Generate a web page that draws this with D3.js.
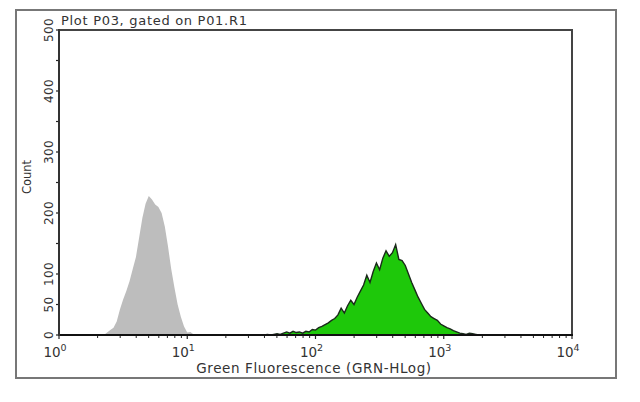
<!DOCTYPE html>
<html><head><meta charset="utf-8">
<script src="https://cdn.jsdelivr.net/npm/d3@7"></script>
<style>
html,body{margin:0;padding:0;background:#fff;}
text{font-family:"DejaVu Sans",Verdana,sans-serif;fill:#333;}
</style></head>
<body><svg id="c" width="640" height="402"></svg>
<script>
// log10 bin positions and counts (0.025-decade bins)
const grayStart = 0.35;
const grayCounts = [0,4,8,12,22,42,58,72,88,108,128,160,192,215,228,222,214,210,200,178,145,108,78,50,30,14,4,5,1,0];
const greenStart = 1.60;
const greenCounts = [0,1,0,1,2,1,3,5,3,6,4,5,3,6,5,9,8,12,14,17,20,24,27,33,44,36,48,57,50,62,72,82,98,86,104,118,107,126,138,129,135,148,124,122,114,100,86,74,62,52,42,36,30,27,24,18,15,12,10,7,5,3,2,1,3,2,1,0];
const binStep = 0.025;
const yTickValues = [0,50,100,200,300,400,500];
const xTickExps = [0,1,2,3,4];
const titleText = "Plot P03, gated on P01.R1";
const xTitle = "Green Fluorescence (GRN-HLog)";
const yTitle = "Count";

const svg = d3.select("#c");
const L = 59, R = 572, T = 30, B = 335;
const x = d3.scaleLog().domain([1, 1e4]).range([L, R]);
const y = d3.scaleLinear().domain([0, 500]).range([B, T]);

// outer frame
svg.append("rect").attr("x",16).attr("y",10).attr("width",600).attr("height",368)
  .attr("fill","none").attr("stroke","#777").attr("stroke-width",2);

const toPts = (start, arr) => arr.map((c,i)=>({v:Math.pow(10,start+i*binStep), c}));
const area = d3.area().x(d=>x(d.v)).y0(y(0)).y1(d=>y(d.c));
const line = d3.line().x(d=>x(d.v)).y(d=>y(d.c));

const g1 = toPts(grayStart, grayCounts);
svg.append("path").attr("d", area(g1)).attr("fill","#bdbdbd");

const g2 = toPts(greenStart, greenCounts);
svg.append("path").attr("d", area(g2)).attr("fill","#1ec80a");
svg.append("path").attr("d", line(g2)).attr("fill","none").attr("stroke","#1a2a1a").attr("stroke-width",1.4);

// plot frame (top, right)
svg.append("path").attr("d",`M${L},${B}V${T}H${R}V${B}`).attr("fill","none").attr("stroke","#444").attr("stroke-width",2);

// x axis
const minor = [];
for (let e=0;e<4;e++) for (let k=2;k<=9;k++) minor.push(k*Math.pow(10,e));
svg.append("g").selectAll("line").data(minor).join("line")
  .attr("x1",d=>x(d)).attr("x2",d=>x(d)).attr("y1",B).attr("y2",B+3)
  .attr("stroke","#222").attr("stroke-width",1);
svg.append("g").selectAll("line").data(xTickExps).join("line")
  .attr("x1",d=>x(Math.pow(10,d))).attr("x2",d=>x(Math.pow(10,d))).attr("y1",B).attr("y2",B+4)
  .attr("stroke","#222").attr("stroke-width",1.2);
svg.append("line").attr("x1",L-1).attr("x2",R+1).attr("y1",B).attr("y2",B).attr("stroke","#111").attr("stroke-width",2);

const xl = svg.append("g").selectAll("text").data(xTickExps).join("text")
  .attr("x",d=>x(Math.pow(10,d))-4).attr("y",357).attr("text-anchor","middle")
  .attr("font-size",13.5);
xl.append("tspan").text("10");
xl.append("tspan").attr("dy",-6).attr("font-size",9.5).text(d=>d);

// y axis
svg.append("g").selectAll("line").data(d3.range(0,501,50)).join("line")
  .attr("x1",L-3).attr("x2",L).attr("y1",d=>y(d)).attr("y2",d=>y(d))
  .attr("stroke","#222").attr("stroke-width",1.2);
svg.append("line").attr("x1",L).attr("x2",L).attr("y1",T-1).attr("y2",B+1).attr("stroke","#333").attr("stroke-width",2);
svg.append("g").selectAll("text").data(yTickValues).join("text")
  .attr("transform",d=>`translate(53,${y(d)}) rotate(-90)`)
  .attr("text-anchor","middle").attr("font-size",12).attr("letter-spacing",0.3).text(d=>d);

// titles
svg.append("text").attr("x",61).attr("y",25).attr("font-size",13).attr("letter-spacing",0.7).text(titleText);
svg.append("text").attr("x",314).attr("y",373).attr("text-anchor","middle").attr("font-size",13.5).attr("letter-spacing",0.6).text(xTitle);
svg.append("text").attr("transform","translate(31,177) rotate(-90)").attr("text-anchor","middle").attr("font-size",11.5).text(yTitle);
</script></body></html>
